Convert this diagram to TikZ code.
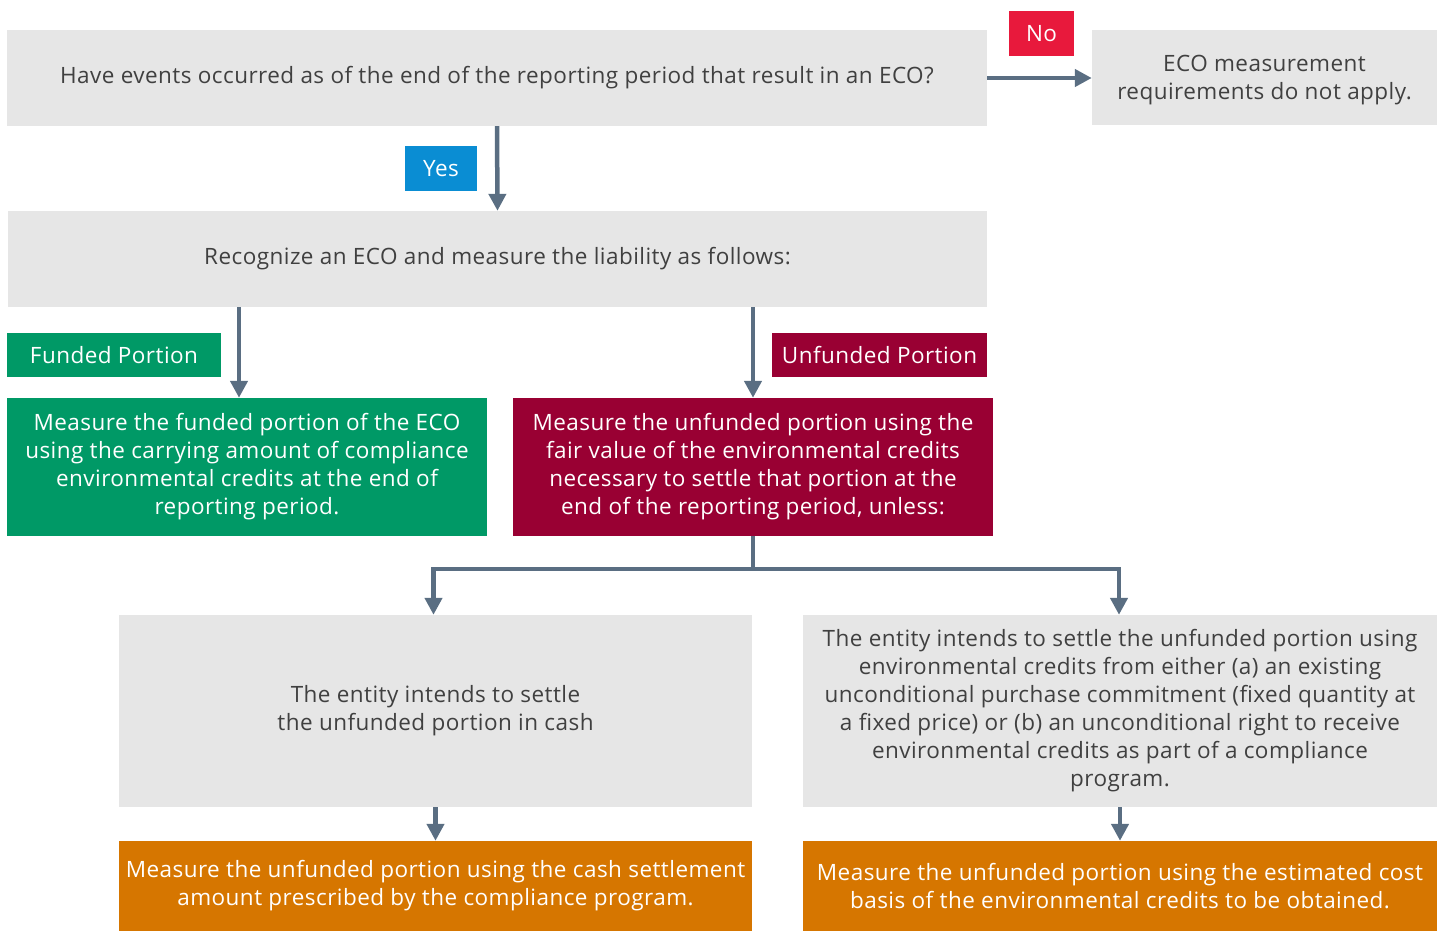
\documentclass[tikz,border=0pt]{standalone}
\usepackage{fontspec}
\setmainfont[LetterSpace=2]{Open Sans}
\usetikzlibrary{arrows.meta}

\definecolor{boxgray}{HTML}{E6E6E6}
\definecolor{textgray}{HTML}{404040}
\definecolor{linkgray}{HTML}{5A6E82}
\definecolor{nored}{HTML}{E8193C}
\definecolor{yesblue}{HTML}{0A8DD3}
\definecolor{fundgreen}{HTML}{009966}
\definecolor{unfundred}{HTML}{990033}
\definecolor{measureorange}{HTML}{D67600}

\begin{document}
\begin{tikzpicture}[x=1pt,y=-1pt,
  font=\fontsize{22.5}{28}\selectfont,
  graybox/.style={fill=boxgray,text=textgray,align=center,inner sep=0pt},
  colorbox/.style={fill=#1,text=white,align=center,inner sep=0pt},
  link/.style={draw=linkgray,line width=4.5pt,-{Triangle[width=17pt,length=17pt]}}]
\useasboundingbox (0,0) rectangle (1443,932);

% question and the two answers
\node[graybox,minimum width=980pt,minimum height=96pt] (events) at (497,78)
  {Have events occurred as of the end of the reporting period that result in an ECO?};
\node[graybox,minimum width=345pt,minimum height=95pt,text depth=-20pt] (noapply) at (1264.5,77.5)
  {ECO measurement\\requirements do not apply.};
\node[colorbox=nored,minimum width=65pt,minimum height=45pt] (no) at (1041.5,33.5) {No};
\node[colorbox=yesblue,minimum width=72pt,minimum height=45pt] (yes) at (441,168.5) {Yes};
\node[graybox,minimum width=979pt,minimum height=96pt] (recognize) at (497.5,259)
  {Recognize an ECO and measure the liability as follows:};

% funded / unfunded split
\node[colorbox=fundgreen,minimum width=214pt,minimum height=44pt] (fundtag) at (114,355) {Funded Portion};
\node[colorbox=unfundred,minimum width=215pt,minimum height=44pt] (unfundtag) at (879.5,355) {Unfunded Portion};
\node[colorbox=fundgreen,minimum width=480pt,minimum height=138pt] (funded) at (247,467)
  {Measure the funded portion of the ECO\\using the carrying amount of compliance\\environmental credits at the end of\\reporting period.};
\node[colorbox=unfundred,minimum width=480pt,minimum height=138pt] (unfunded) at (753,467)
  {Measure the unfunded portion using the\\fair value of the environmental credits\\necessary to settle that portion at the\\end of the reporting period, unless:};

% exceptions
\node[graybox,minimum width=633pt,minimum height=192pt] (cash) at (435.5,711)
  {The entity intends to settle\\the unfunded portion in cash};
\node[graybox,minimum width=634pt,minimum height=192pt] (credits) at (1120,711)
  {The entity intends to settle the unfunded portion using\\environmental credits from either (a) an existing\\unconditional purchase commitment (fixed quantity at\\a fixed price) or (b) an unconditional right to receive\\environmental credits as part of a compliance\\program.};
\node[colorbox=measureorange,minimum width=633pt,minimum height=90pt] (cashmeas) at (435.5,886)
  {Measure the unfunded portion using the cash settlement\\amount prescribed by the compliance program.};
\node[colorbox=measureorange,minimum width=634pt,minimum height=90pt] (costmeas) at (1120,886)
  {Measure the unfunded portion using the estimated cost\\basis of the environmental credits to be obtained.};

% connectors
\draw[link] (events.east) -- (noapply.west |- events.east);
\draw[link] (events.south) -- (recognize.north);
\draw[link] (recognize.south -| funded.north) ++(-8,0) -- ([xshift=-8pt]funded.north);
\draw[link] (recognize.south -| unfunded.north) -- (unfunded.north);
\coordinate (split) at (753,569);
\draw[draw=linkgray,line width=4.5pt] (unfunded.south) -- (split);
\draw[link] (split) -| ([xshift=-2pt]cash.north);
\draw[link] (split) -| ([xshift=-1pt]credits.north);
\draw[link] (cash.south) -- (cashmeas.north);
\draw[link] (credits.south) -- (costmeas.north);
\end{tikzpicture}
\end{document}
